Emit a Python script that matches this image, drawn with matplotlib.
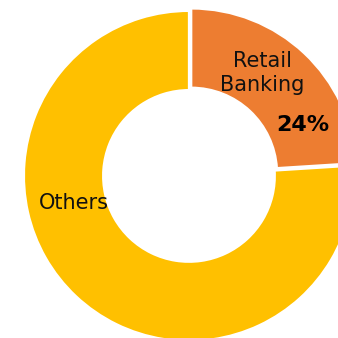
import matplotlib
matplotlib.use("Agg")
import matplotlib.pyplot as plt

# Segment shares (percent)
categories = ["Retail Banking", "Others"]
shares = [24, 76]
colors = ["#ED7D31", "#FFC000"]

DPI = 100
fig = plt.figure(figsize=(3.38, 3.38), dpi=DPI)
ax = fig.add_axes([0, 0, 1, 1])

wedges, _ = ax.pie(
    shares,
    colors=colors,
    startangle=90,
    counterclock=False,
    radius=1.0,
    explode=[0.02, 0.0],
    wedgeprops=dict(width=0.48, edgecolor="white", linewidth=1.6),
)

# Frame the ring so it runs off the right and bottom edges
ax.set_xlim(-1.145, 0.903)
ax.set_ylim(-0.982, 1.066)
ax.set_aspect("equal")
ax.axis("off")

ax.text(0.445, 0.625, "Retail\nBanking", ha="center", va="center",
        fontsize=15, linespacing=1.25, color="#111111")
ax.text(0.69, 0.31, f"{shares[0]}%", ha="center", va="center",
        fontsize=16, fontweight="bold", color="black")
ax.text(-0.695, -0.165, "Others", ha="center", va="center",
        fontsize=15, color="#111111")

fig.savefig("out.png", dpi=DPI)
